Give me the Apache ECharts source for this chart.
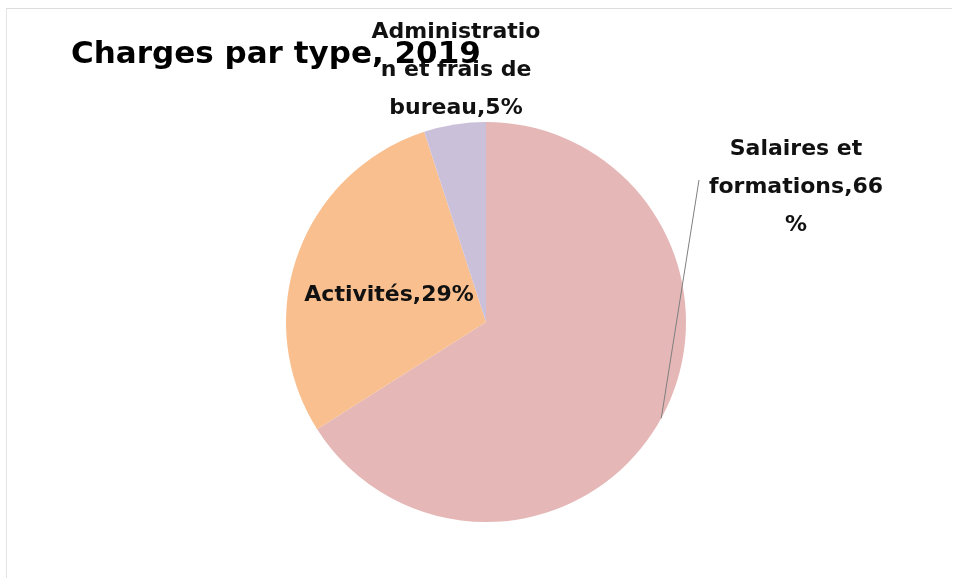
<!DOCTYPE html>
<html>
<head>
<meta charset="utf-8">
<script src="https://cdn.jsdelivr.net/npm/echarts@6/dist/echarts.min.js"></script>
<style>
  html, body { margin: 0; padding: 0; background: #fff; }
  #frame {
    position: absolute; left: 6px; top: 8px; width: 945px; height: 570px;
    border-top: 1px solid #dcdcdc; border-left: 1px solid #e4e4e4;
  }
  #chart { position: absolute; left: 0; top: 0; width: 953px; height: 578px; }
</style>
</head>
<body>
<div id="frame"></div>
<div id="chart"></div>
<script>
const categories = ['Salaires et formations', 'Activités', 'Administration et frais de bureau']
const shares = [66, 29, 5]
// texte des étiquettes, coupé comme sur l'original
const labelTexts = ['Salaires et\nformations,66\n%', 'Activités,29%', 'Administratio\nn et frais de\nbureau,5%']
const colors = ['#E5B8B7', '#F9BF8F', '#CBC0DA']

const pieCenter = [486, 322]
const pieRadius = 200
const labelFont = {
  fontFamily: 'DejaVu Sans',
  fontWeight: 'bold',
  fontSize: 22,
  lineHeight: 38,
  color: '#111'
}

const chart = echarts.init(document.getElementById('chart'))

chart.setOption({
  animation: false,
  title: {
    text: 'Charges par type, 2019',
    left: 66,
    top: 34,
    textStyle: {
      fontFamily: 'DejaVu Sans',
      fontWeight: 'bold',
      fontSize: 31,
      color: '#000'
    }
  },
  series: [
    {
      // les parts colorées + étiquettes Activités / Administration
      type: 'pie',
      z: 2,
      center: pieCenter,
      radius: pieRadius,
      startAngle: 90,
      clockwise: true,
      label: Object.assign({
        position: 'inner',
        formatter: function (p) { return p.dataIndex === 0 ? '' : labelTexts[p.dataIndex] }
      }, labelFont),
      labelLine: { show: false },
      labelLayout: function (p) {
        if (p.dataIndex === 2) {
          return { x: 456, y: 70, align: 'center', verticalAlign: 'middle' }
        }
        return { dy: 8 }
      },
      data: categories.map(function (name, i) {
        return { name: name, value: shares[i], itemStyle: { color: colors[i] } }
      })
    },
    {
      // calque transparent au-dessus : étiquette Salaires avec son trait
      type: 'pie',
      z: 3,
      silent: true,
      center: pieCenter,
      radius: pieRadius,
      startAngle: 90,
      clockwise: true,
      itemStyle: { color: 'rgba(0,0,0,0)' },
      label: Object.assign({
        position: 'outside',
        formatter: function (p) { return p.dataIndex === 0 ? labelTexts[0] : '' }
      }, labelFont),
      labelLine: {
        show: true,
        length: 0,
        length2: 0,
        lineStyle: { color: '#7f7f7f', width: 1 }
      },
      labelLayout: function (p) {
        if (p.dataIndex !== 0) return {}
        const lx = 796
        const ly = 187
        const pts = p.labelLinePoints
        const out = { x: lx, y: ly, align: 'center', verticalAlign: 'middle' }
        if (pts && pts.length) {
          const end = [lx - 97, ly - 7]
          const mid = [(pts[0][0] + end[0]) / 2, (pts[0][1] + end[1]) / 2]
          out.labelLinePoints = [pts[0], mid, end]
        }
        return out
      },
      data: categories.map(function (name, i) {
        const item = { name: name, value: shares[i] }
        if (i !== 0) item.labelLine = { show: false }
        return item
      })
    }
  ]
})
</script>
</body>
</html>
